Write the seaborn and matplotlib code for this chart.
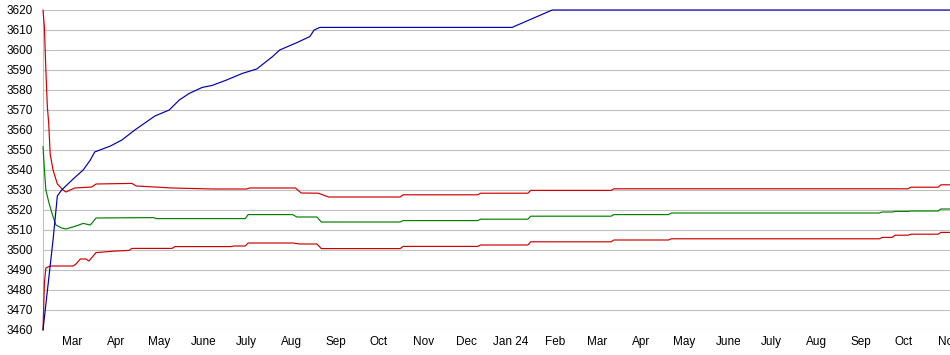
import matplotlib
matplotlib.use("Agg")
import matplotlib.pyplot as plt
import pandas as pd
import seaborn as sns

# ---- data ----
rating_dates = ["2023-02-09", "2023-02-16", "2023-02-19", "2023-02-22", "2023-03-02",
                "2023-03-09", "2023-03-14", "2023-03-17", "2023-03-28", "2023-04-05",
                "2023-04-14", "2023-04-28", "2023-05-08", "2023-05-15", "2023-05-22",
                "2023-05-31", "2023-06-07", "2023-06-17", "2023-06-28", "2023-07-08",
                "2023-07-19", "2023-07-24", "2023-08-05", "2023-08-14", "2023-08-17",
                "2023-08-21", "2024-01-02", "2024-01-30", "2024-11-02"]
rating_values = [3460, 3505, 3527, 3530, 3535.5,
                 3540, 3545, 3549, 3552, 3555,
                 3560, 3567, 3570, 3575, 3578.3,
                 3581.3, 3582.3, 3585, 3588.3, 3590.5,
                 3596.7, 3600, 3603.7, 3606.7, 3610,
                 3611.3, 3611.3, 3620, 3620]

upper_dates = ["2023-02-09", "2023-02-10", "2023-02-11", "2023-02-12", "2023-02-13",
               "2023-02-14", "2023-02-16", "2023-02-19", "2023-02-23", "2023-02-25",
               "2023-03-03", "2023-03-15", "2023-03-18", "2023-04-12", "2023-04-15",
               "2023-04-28", "2023-05-10", "2023-06-08", "2023-07-01", "2023-07-03",
               "2023-08-04", "2023-08-08", "2023-08-20", "2023-08-27", "2023-10-16",
               "2023-10-18", "2023-12-09", "2023-12-11", "2024-01-13", "2024-01-15",
               "2024-03-11", "2024-03-13", "2024-10-04", "2024-10-06", "2024-10-25",
               "2024-10-27", "2024-11-02"]
upper_values = [3620, 3611, 3590, 3572, 3563,
                3548, 3540, 3533, 3530, 3529,
                3531, 3531.5, 3533, 3533.3, 3532,
                3531.5, 3531, 3530.5, 3530.5, 3531,
                3531, 3528.5, 3528.4, 3526.5, 3526.5,
                3527.6, 3527.6, 3528.4, 3528.4, 3529.8,
                3529.8, 3530.6, 3530.6, 3531.4, 3531.4,
                3532.6, 3532.6]

mid_dates = ["2023-02-09", "2023-02-10", "2023-02-11", "2023-02-12", "2023-02-13",
             "2023-02-15", "2023-02-16", "2023-02-18", "2023-02-22", "2023-02-25",
             "2023-03-04", "2023-03-09", "2023-03-14", "2023-03-18", "2023-04-27",
             "2023-04-29", "2023-06-30", "2023-07-02", "2023-08-02", "2023-08-05",
             "2023-08-19", "2023-08-22", "2023-10-16", "2023-10-18", "2023-12-09",
             "2023-12-11", "2024-01-13", "2024-01-15", "2024-03-11", "2024-03-13",
             "2024-04-20", "2024-04-22", "2024-09-14", "2024-09-16", "2024-09-23",
             "2024-09-25", "2024-10-04", "2024-10-06", "2024-10-25", "2024-10-27",
             "2024-11-02"]
mid_values = [3551.7, 3540, 3530, 3527, 3524,
              3519, 3516.7, 3512.5, 3511, 3510.5,
              3512, 3513.3, 3512.5, 3516, 3516.2,
              3515.7, 3515.7, 3517.7, 3517.7, 3516.5,
              3516.5, 3514, 3514, 3514.7, 3514.7,
              3515.4, 3515.4, 3516.9, 3516.9, 3517.7,
              3517.7, 3518.5, 3518.5, 3519, 3519,
              3519.3, 3519.3, 3519.5, 3519.5, 3520.5,
              3520.5]

lower_dates = ["2023-02-09", "2023-02-10", "2023-02-11", "2023-02-14", "2023-03-02",
               "2023-03-04", "2023-03-07", "2023-03-11", "2023-03-13", "2023-03-18",
               "2023-04-01", "2023-04-10", "2023-04-12", "2023-05-10", "2023-05-12",
               "2023-06-20", "2023-06-22", "2023-06-30", "2023-07-02", "2023-08-02",
               "2023-08-07", "2023-08-19", "2023-08-22", "2023-10-16", "2023-10-18",
               "2023-12-09", "2023-12-11", "2024-01-13", "2024-01-15", "2024-03-11",
               "2024-03-13", "2024-04-20", "2024-04-22", "2024-09-14", "2024-09-16",
               "2024-09-23", "2024-09-25", "2024-10-04", "2024-10-06", "2024-10-25",
               "2024-10-27", "2024-11-02"]
lower_values = [3460, 3484, 3491, 3492, 3492,
                3493, 3495.5, 3495.5, 3494.5, 3498.7,
                3499.5, 3499.8, 3500.8, 3500.8, 3501.7,
                3501.7, 3502, 3502, 3503.5, 3503.5,
                3503, 3503, 3500.7, 3500.7, 3501.8,
                3501.8, 3502.5, 3502.5, 3504.1, 3504.1,
                3505, 3505, 3505.6, 3505.6, 3506.3,
                3506.3, 3507.4, 3507.4, 3507.9, 3507.9,
                3508.8, 3508.8]

month_ticks = ["2023-03-01", "2023-04-01", "2023-05-01", "2023-06-01", "2023-07-01",
               "2023-08-01", "2023-09-01", "2023-10-01", "2023-11-01", "2023-12-01",
               "2024-01-01", "2024-02-01", "2024-03-01", "2024-04-01", "2024-05-01",
               "2024-06-01", "2024-07-01", "2024-08-01", "2024-09-01", "2024-10-01",
               "2024-11-01"]
month_labels = ["Mar", "Apr", "May", "June", "July", "Aug", "Sep", "Oct", "Nov", "Dec",
                "Jan 24", "Feb", "Mar", "Apr", "May", "June", "July", "Aug", "Sep", "Oct",
                "Nov"]
y_ticks = list(range(3460, 3621, 10))

# ---- styling ----
sns.set_style("white")
plt.rcParams["font.family"] = ["Liberation Sans", "DejaVu Sans"]
plt.rcParams["font.size"] = 8

fig = plt.figure(figsize=(9.5, 3.55), dpi=100)
ax = fig.add_axes([43 / 950, 25 / 355, 907 / 950, 320 / 355])

series = [
    (lower_dates, lower_values, "#cc0000"),
    (mid_dates, mid_values, "#008000"),
    (upper_dates, upper_values, "#cc0000"),
    (rating_dates, rating_values, "#0000aa"),
]
for dates, values, color in series:
    df = pd.DataFrame({"date": pd.to_datetime(dates), "value": values})
    sns.lineplot(data=df, x="date", y="value", ax=ax, color=color,
                 linewidth=0.85, estimator=None, sort=False, clip_on=False, zorder=3)

ax.set_xlim(pd.Timestamp("2023-02-09"), pd.Timestamp("2024-11-02 07:00"))
ax.set_ylim(3460, 3620)
ax.set_yticks(y_ticks)
ax.set_yticklabels([str(v) for v in y_ticks])
ax.set_xticks(pd.to_datetime(month_ticks))
ax.set_xticklabels(month_labels)
ax.set_xlabel("")
ax.set_ylabel("")

ax.grid(axis="y", color="#c0c0c0", linewidth=0.8)
ax.grid(axis="x", visible=False)
ax.set_axisbelow(True)
for side in ["top", "right", "bottom"]:
    ax.spines[side].set_visible(False)
ax.spines["left"].set_color("#c0c0c0")
ax.spines["left"].set_linewidth(0.8)
ax.tick_params(axis="both", length=0, colors="#000000", labelsize=8.5)
ax.tick_params(axis="y", pad=7)
ax.tick_params(axis="x", pad=4)

fig.savefig("out.png", dpi=100)
